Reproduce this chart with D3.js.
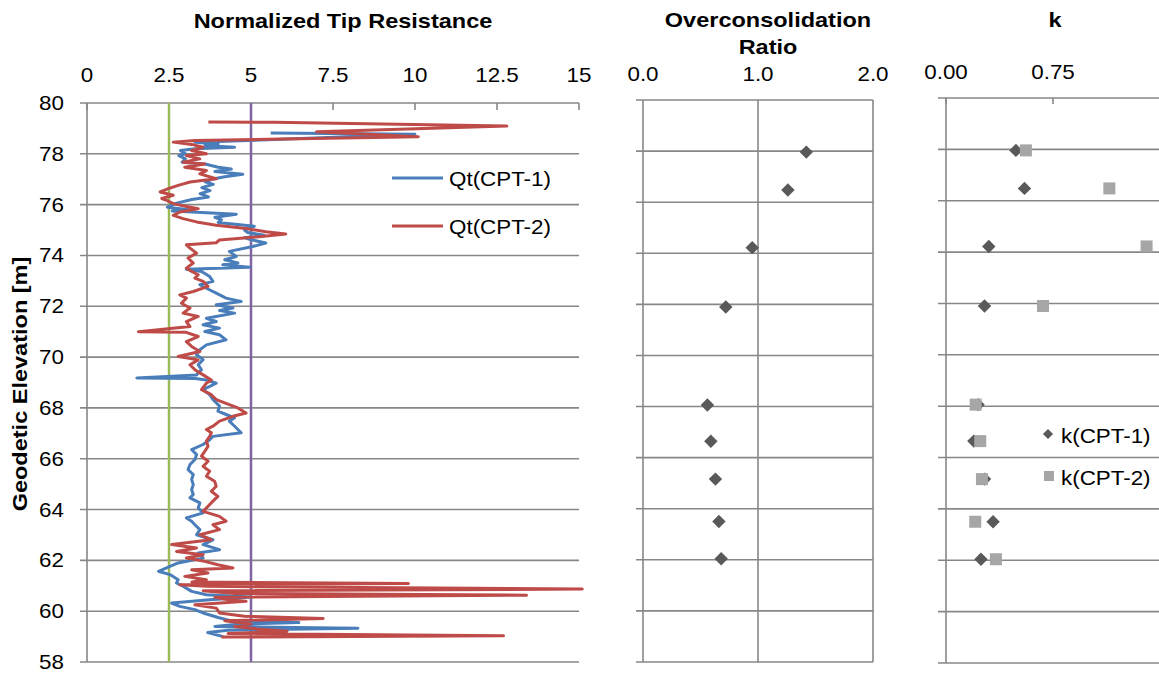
<!DOCTYPE html>
<html><head><meta charset="utf-8">
<script src="https://cdn.jsdelivr.net/npm/d3@7"></script>
<style>html,body{margin:0;padding:0;background:#fff;} svg{display:block;}</style>
</head><body>
<svg id="chart" width="1159" height="675"></svg>
<script>
// ---------------- DATA ----------------
const elevTicks = [58,60,62,64,66,68,70,72,74,76,78,80];
const qtTicks = [0,2.5,5,7.5,10,12.5,15];
const qtTickLabels = ["0","2.5","5","7.5","10","12.5","15"];
const ocrTicks = [0,1,2];
const ocrTickLabels = ["0.0","1.0","2.0"];
const kTicks = [0,0.75];
const kTickLabels = ["0.00","0.75"];
const refLines = [{q:2.5,color:"#9BBB59"},{q:5,color:"#8064A2"}];

// CPT-1 normalized tip resistance profile: [elevation m, Qt]
const cpt1Profile = [
[78.82,5.6],[78.77,10.0],[78.55,5.5],[78.46,3.29],[78.39,4.0],[78.33,3.6],[78.26,4.5],[78.2,3.3],
[78.13,2.85],[78.0,3.0],[77.93,2.8],[77.8,3.0],[77.67,2.9],[77.6,3.6],[77.47,4.0],[77.4,4.4],
[77.3,3.9],[77.2,4.75],[77.1,4.2],[77.0,3.8],[76.9,3.6],[76.8,3.85],[76.67,3.5],[76.55,3.75],
[76.43,3.45],[76.3,3.7],[76.2,3.2],[76.05,2.7],[75.9,2.45],[75.8,3.1],[75.75,2.6],[75.62,4.55],
[75.5,3.9],[75.4,4.1],[75.3,4.0],[75.15,5.1],[75.0,4.8],[74.9,4.9],[74.8,5.4],[74.7,4.8],
[74.62,5.0],[74.49,5.45],[74.35,5.05],[74.16,4.34],[73.96,4.55],[73.83,4.2],[73.7,4.6],[73.63,4.14],
[73.54,4.95],[73.46,3.03],[73.37,3.49],[73.17,3.74],[72.98,3.84],[72.85,3.44],[72.71,3.64],[72.52,3.94],
[72.32,4.24],[72.19,4.7],[72.06,3.94],[71.93,4.45],[71.83,4.04],[71.73,4.5],[71.53,3.64],[71.4,3.94],
[71.27,3.54],[71.14,4.04],[71.01,3.59],[70.88,4.04],[70.68,4.24],[70.48,3.64],[70.29,3.44],[70.09,3.34],
[69.9,3.54],[69.7,3.39],[69.5,3.49],[69.3,3.34],[69.18,1.52],[69.16,3.3],[69.1,3.64],[68.97,3.94],
[68.72,3.54],[68.52,3.74],[68.33,3.84],[68.07,4.04],[67.87,3.99],[67.74,4.24],[67.61,4.5],[67.48,4.34],
[67.28,4.5],[67.15,4.6],[67.02,4.7],[66.88,3.84],[66.75,3.74],[66.56,3.54],[66.36,3.19],[66.16,3.34],
[65.97,3.29],[65.77,3.14],[65.57,3.08],[65.38,3.24],[65.18,3.19],[64.98,3.24],[64.78,3.19],[64.59,3.24],
[64.46,3.14],[64.26,3.44],[64.06,3.39],[63.87,3.54],[63.67,3.03],[63.54,3.19],[63.4,3.29],[63.21,3.44],
[63.01,3.34],[62.81,3.84],[62.62,3.54],[62.42,4.04],[62.29,3.39],[62.09,3.54],[61.9,2.78],[61.76,2.53],
[61.57,2.18],[61.44,2.53],[61.24,2.78],[61.11,2.73],[60.98,2.93],[60.78,3.19],[60.65,3.64],[60.56,5.0],
[60.45,3.74],[60.32,2.58],[60.19,2.83],[60.06,3.29],[59.93,3.54],[59.75,4.0],[59.62,4.4],[59.55,6.46],
[59.48,4.5],[59.4,3.9],[59.33,8.26],[59.25,4.3],[59.16,3.68],[59.0,4.15]
];

// CPT-2 normalized tip resistance profile: [elevation m, Qt]
const cpt2Profile = [
[79.25,3.7],[79.24,5.7],[79.09,12.8],[78.87,7.0],[78.67,10.1],[78.52,3.29],[78.46,2.63],[78.37,3.19],
[78.26,3.54],[78.13,3.19],[78.0,3.64],[77.93,3.03],[77.8,3.44],[77.67,2.93],[77.6,3.59],[77.47,2.98],
[77.34,3.64],[77.21,3.44],[77.02,3.94],[76.89,3.14],[76.76,2.78],[76.63,2.48],[76.5,2.23],[76.37,2.63],
[76.24,2.28],[76.17,2.43],[76.04,2.63],[75.93,3.03],[75.84,3.39],[75.71,2.83],[75.58,2.63],[75.45,2.93],
[75.32,3.34],[75.19,3.94],[75.06,4.85],[74.93,5.45],[74.84,6.06],[74.74,5.25],[74.61,4.04],[74.5,3.94],
[74.42,3.03],[74.29,3.14],[74.09,3.34],[73.9,3.08],[73.7,3.24],[73.5,3.03],[73.37,3.19],[73.24,3.39],
[73.11,3.29],[72.98,3.54],[72.78,3.69],[72.58,3.24],[72.45,2.83],[72.32,3.03],[72.12,2.88],[71.93,3.14],
[71.73,2.93],[71.6,3.39],[71.4,3.03],[71.2,3.14],[71.0,1.57],[70.98,3.0],[70.81,3.39],[70.61,3.03],
[70.42,3.19],[70.22,3.44],[70.02,2.78],[69.89,3.39],[69.7,3.14],[69.5,3.29],[69.3,3.54],[69.1,3.79],
[68.97,3.64],[68.72,3.49],[68.52,3.79],[68.33,3.94],[68.13,4.34],[68.0,4.6],[67.8,4.85],[67.67,4.45],
[67.48,4.04],[67.28,3.84],[67.15,3.64],[67.02,3.79],[66.88,3.74],[66.69,3.64],[66.49,3.69],[66.29,3.59],
[66.1,3.49],[65.9,3.69],[65.7,3.54],[65.51,3.74],[65.31,3.64],[65.11,3.89],[64.92,3.94],[64.72,3.79],
[64.52,3.99],[64.33,3.84],[64.13,3.69],[63.93,3.54],[63.73,4.04],[63.54,4.24],[63.4,3.84],[63.21,4.04],
[63.01,3.44],[62.81,3.79],[62.62,2.58],[62.49,3.34],[62.35,2.73],[62.22,3.54],[62.09,3.03],[61.96,3.59],
[61.83,3.99],[61.7,4.45],[61.63,3.19],[61.5,3.69],[61.37,2.98],[61.24,3.64],[61.15,3.2],[61.09,9.8],
[61.04,2.83],[60.98,3.64],[60.87,15.1],[60.8,3.54],[60.7,4.5],[60.63,13.4],[60.55,3.9],[60.45,4.3],
[60.39,4.85],[60.25,3.29],[60.12,3.94],[59.93,4.04],[59.8,4.8],[59.71,7.2],[59.62,4.2],[59.5,5.0],
[59.4,4.5],[59.3,5.2],[59.21,6.1],[59.12,4.3],[59.03,12.7],[58.98,4.1]
];

// Overconsolidation ratio and k at test elevations
const testElev = [77.96,76.48,74.22,71.9,68.06,66.64,65.16,63.5,62.04];
const ocrValues = [1.42,1.26,0.95,0.72,0.56,0.59,0.63,0.66,0.68];
const kCpt1 = [0.49,0.55,0.30,0.27,0.225,0.195,0.27,0.33,0.245];
const kCpt2 = [0.56,1.145,1.406,0.68,0.208,0.24,0.252,0.205,0.35];

// ---------------- DRAWING ----------------
const svg = d3.select("#chart");
const FONT = "'Liberation Sans', Arial, Helvetica, sans-serif";
const SX = 1.12; // horizontal text stretch of the original image
const grid = "#878787";

function label(x, y, str, {size=20, weight="normal", anchor="middle", rotate=0} = {}) {
  return svg.append("text")
    .attr("transform", `translate(${x},${y})` + (rotate ? ` rotate(${rotate})` : "") + ` scale(${SX},1)`)
    .attr("text-anchor", anchor)
    .style("font-family", FONT).style("font-size", size + "px").style("font-weight", weight)
    .attr("fill", "#000").text(str);
}

// ---- Panel 1: Normalized tip resistance ----
const x1 = d3.scaleLinear().domain([0,15]).range([87,579]);
const y1 = d3.scaleLinear().domain([58,80]).range([662,103]);
const p1 = svg.append("g");
p1.selectAll("line.h").data(elevTicks).join("line")
  .attr("x1", x1(0)-7).attr("x2", x1(15)).attr("y1", d=>y1(d)).attr("y2", d=>y1(d))
  .attr("stroke", grid).attr("stroke-width", 1.6);
p1.append("line").attr("x1", x1(0)).attr("x2", x1(0)).attr("y1", y1(80)).attr("y2", y1(58))
  .attr("stroke", grid).attr("stroke-width", 1.6);
p1.selectAll("line.t").data(qtTicks).join("line")
  .attr("x1", d=>x1(d)).attr("x2", d=>x1(d)).attr("y1", y1(80)).attr("y2", y1(80)+7)
  .attr("stroke", grid).attr("stroke-width", 1.6);
refLines.forEach(r => {
  p1.append("line").attr("x1", x1(r.q)).attr("x2", x1(r.q)).attr("y1", y1(80)).attr("y2", y1(58))
    .attr("stroke", r.color).attr("stroke-width", 2.5);
});
const line1 = d3.line().x(d=>x1(d[1])).y(d=>y1(d[0]));
p1.append("path").datum(cpt1Profile).attr("d", line1).attr("fill","none")
  .attr("stroke","#4A7EBB").attr("stroke-width",3).attr("stroke-linejoin","round");
p1.append("path").datum(cpt2Profile).attr("d", line1).attr("fill","none")
  .attr("stroke","#BE4B48").attr("stroke-width",3).attr("stroke-linejoin","round");
qtTicks.forEach((t,i) => label(x1(t), 82, qtTickLabels[i]));
elevTicks.forEach(t => label(64, y1(t)+7, String(t), {anchor:"end"}));
label(343, 28, "Normalized Tip Resistance", {size:21, weight:"bold"});
label(27, 384, "Geodetic Elevation [m]", {size:21, weight:"bold", rotate:-90});
// legend 1
[{c:"#4A7EBB", t:"Qt(CPT-1)", y:178},{c:"#BE4B48", t:"Qt(CPT-2)", y:226}].forEach(l => {
  svg.append("line").attr("x1",392).attr("x2",443).attr("y1",l.y).attr("y2",l.y)
    .attr("stroke",l.c).attr("stroke-width",3);
  label(449, l.y+8, l.t, {anchor:"start"});
});

// ---- Panel 2: OCR ----
const x2 = d3.scaleLinear().domain([0,2]).range([643,873]);
const y2 = d3.scaleLinear().domain([58,80]).range([662,100]);
const p2 = svg.append("g");
p2.selectAll("line.h").data(elevTicks).join("line")
  .attr("x1", x2(0)-7).attr("x2", x2(2)).attr("y1", d=>y2(d)).attr("y2", d=>y2(d))
  .attr("stroke", grid).attr("stroke-width", 1.6);
p2.selectAll("line.v").data(ocrTicks).join("line")
  .attr("x1", d=>x2(d)).attr("x2", d=>x2(d)).attr("y1", y2(80)).attr("y2", y2(58))
  .attr("stroke", grid).attr("stroke-width", 1.6);
const diamond = d3.symbol().type(d3.symbolDiamond2);
p2.selectAll("path.pt").data(testElev).join("path")
  .attr("d", diamond.size(115)())
  .attr("transform", (d,i)=>`translate(${x2(ocrValues[i])},${y2(d)})`)
  .attr("fill", "#595959");
ocrTicks.forEach((t,i) => label(x2(t), 81, ocrTickLabels[i]));
label(768, 27, "Overconsolidation", {size:21, weight:"bold"});
label(768, 54, "Ratio", {size:21, weight:"bold"});

// ---- Panel 3: k ----
const x3 = d3.scaleLinear().domain([0,1.5]).range([946,1160]);
const y3 = d3.scaleLinear().domain([58,80]).range([663,98]);
const p3 = svg.append("g");
p3.selectAll("line.h").data(elevTicks).join("line")
  .attr("x1", x3(0)-8).attr("x2", x3(1.5)).attr("y1", d=>y3(d)).attr("y2", d=>y3(d))
  .attr("stroke", grid).attr("stroke-width", 1.6);
p3.append("line").attr("x1", x3(0)).attr("x2", x3(0)).attr("y1", y3(80)).attr("y2", y3(58))
  .attr("stroke", grid).attr("stroke-width", 1.6);
p3.selectAll("line.t").data(kTicks).join("line")
  .attr("x1", d=>x3(d)).attr("x2", d=>x3(d)).attr("y1", y3(80)).attr("y2", y3(80)+6)
  .attr("stroke", grid).attr("stroke-width", 1.6);
p3.selectAll("path.k1").data(testElev).join("path")
  .attr("d", diamond.size(115)())
  .attr("transform", (d,i)=>`translate(${x3(kCpt1[i])},${y3(d)})`)
  .attr("fill", "#595959");
p3.selectAll("rect.k2").data(testElev).join("rect")
  .attr("x", (d,i)=>x3(kCpt2[i])-6).attr("y", d=>y3(d)-6).attr("width",12).attr("height",12)
  .attr("fill", "#A6A6A6");
kTicks.forEach((t,i) => label(x3(t), 79, kTickLabels[i]));
label(1055, 27, "k", {size:21, weight:"bold"});
// legend 3
svg.append("path").attr("d", diamond.size(65)()).attr("transform","translate(1048,434)").attr("fill","#595959");
label(1061, 443, "k(CPT-1)", {anchor:"start"});
svg.append("rect").attr("x",1044).attr("y",471).attr("width",10).attr("height",10).attr("fill","#A6A6A6");
label(1061, 485, "k(CPT-2)", {anchor:"start"});
</script>
</body></html>
